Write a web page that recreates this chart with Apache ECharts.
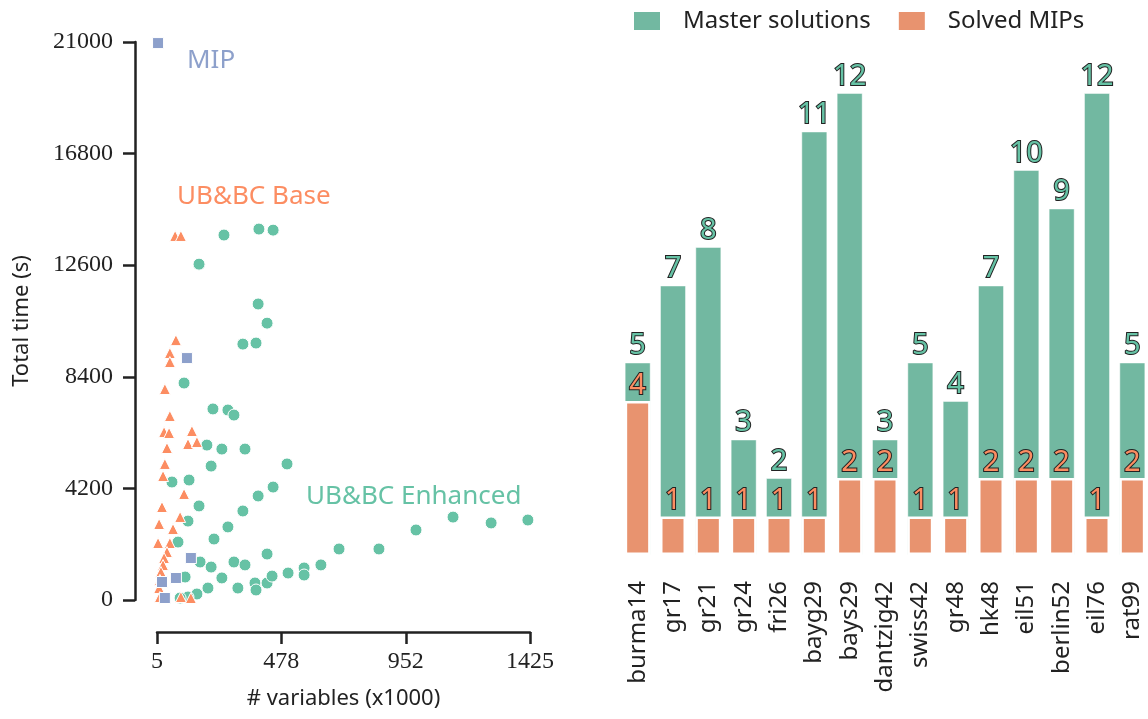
<!DOCTYPE html>
<html style="height: 100%;">
<head>
<meta charset="utf-8">
<title>UB&amp;BC</title>
<script src="https://cdn.jsdelivr.net/npm/echarts@6/dist/echarts.min.js"></script>
</head>
<body style="height: 100%; margin: 0; background: #fff;">
<div id="main" style="width: 1148px; height: 719px;"></div>
<script>
// scatter: [# variables (x1000), total time (s)]
var enhancedPts = [
  [260, 13735], [393, 13960], [447, 13920], [165, 12640], [390, 11140], [424, 10420],
  [332, 9630], [382, 9670], [108, 8165], [218, 7190], [275, 7150], [298, 6960],
  [195, 5830], [252, 5680], [340, 5680], [500, 5120], [211, 5040], [62, 4440],
  [127, 4515], [447, 4250], [390, 3915], [332, 3350], [275, 2750], [222, 2295],
  [165, 3540], [123, 2970], [85, 2180], [169, 1430], [211, 1240], [298, 1430],
  [340, 1320], [424, 1730], [698, 1920], [850, 1920], [991, 2635], [1132, 3120],
  [1277, 2900], [1417, 3010], [112, 865], [252, 830], [313, 450], [199, 450],
  [378, 640], [382, 376], [424, 640], [443, 900], [504, 1015], [565, 1205],
  [565, 940], [629, 1320], [157, 226], [123, 113], [93, 75]
];
var basePts = [
  [74, 13700], [96, 13700], [77, 9780], [54, 9295], [54, 8955], [35, 7940],
  [54, 6925], [32, 6320], [51, 6285], [138, 6360], [43, 5720], [123, 5870],
  [157, 5945], [35, 5120], [28, 4665], [108, 3990], [24, 3500], [93, 3125],
  [13, 2860], [66, 2670], [9, 2145], [54, 2145], [43, 1805], [32, 1580],
  [28, 1315], [20, 1055], [16, 755], [13, 450], [96, 113], [134, 75], [16, 113]
];
var mipPts = [
  [9, 20960], [119, 9105], [134, 1580], [77, 828], [24, 677], [35, 75]
];
var xTicks = [5, 478, 952, 1425];

// bars
var instances = ['burma14', 'gr17', 'gr21', 'gr24', 'fri26', 'bayg29', 'bays29', 'dantzig42',
  'swiss42', 'gr48', 'hk48', 'eil51', 'berlin52', 'eil76', 'rat99'];
var masterSolutions = [5, 7, 8, 3, 2, 11, 12, 3, 5, 4, 7, 10, 9, 12, 5];
var solvedMips = [4, 1, 1, 1, 1, 1, 2, 2, 1, 1, 2, 2, 2, 1, 2];

var sans = '"Noto Sans", "DejaVu Sans", sans-serif';
var serif = '"Liberation Serif", "DejaVu Serif", serif';
var ink = '#222';

function plain(v) {
  return String(Math.round(v));
}

var chart = echarts.init(document.getElementById('main'));

var option = {
  animation: false,
  legend: {
    left: 634,
    top: 9,
    padding: 0,
    itemWidth: 26,
    itemHeight: 18,
    itemGap: 28,
    icon: 'rect',
    itemStyle: { borderWidth: 0 },
    textStyle: { fontFamily: sans, fontSize: 24, color: ink, padding: [0, 0, 0, 18] },
    data: ['Master solutions', 'Solved MIPs']
  },
  grid: [
    { left: 157, top: 42, width: 373, height: 558, outerBoundsMode: 'none', containLabel: false },
    // detached x axis of the scatter, drawn below the data area
    { left: 157, top: 631, width: 373, height: 1, outerBoundsMode: 'none', containLabel: false },
    { left: 620, top: 93, width: 530, height: 462, outerBoundsMode: 'none', containLabel: false }
  ],
  xAxis: [
    {
      gridIndex: 0,
      type: 'value',
      min: 5,
      max: 1425,
      show: false
    },
    {
      gridIndex: 1,
      type: 'value',
      position: 'bottom',
      min: 5,
      max: 1425,
      name: '# variables (x1000)',
      nameLocation: 'middle',
      nameGap: 56,
      nameTextStyle: { fontFamily: sans, fontSize: 22, color: ink },
      axisLine: { show: true, onZero: false, lineStyle: { color: ink, width: 2.5 } },
      axisTick: { show: true, length: 12, lineStyle: { color: ink, width: 2.5 }, customValues: xTicks },
      axisLabel: { fontFamily: serif, fontSize: 24, color: ink, margin: 18, customValues: xTicks, formatter: plain },
      splitLine: { show: false }
    },
    {
      gridIndex: 2,
      type: 'category',
      data: instances,
      axisLine: { show: false },
      axisTick: { show: false },
      axisLabel: { rotate: 90, interval: 0, fontFamily: sans, fontSize: 24, color: ink, margin: 26 }
    }
  ],
  yAxis: [
    {
      gridIndex: 0,
      type: 'value',
      min: 0,
      max: 21000,
      interval: 4200,
      offset: 22,
      name: 'Total time (s)',
      nameLocation: 'middle',
      nameGap: 102,
      nameTextStyle: { fontFamily: sans, fontSize: 22, color: ink },
      axisLine: { show: true, onZero: false, lineStyle: { color: ink, width: 2.5 } },
      axisTick: { show: true, length: 12, lineStyle: { color: ink, width: 2.5 } },
      axisLabel: { fontFamily: serif, fontSize: 24, color: ink, margin: 22, formatter: plain },
      splitLine: { show: false }
    },
    {
      gridIndex: 1,
      type: 'value',
      min: 0,
      max: 1,
      show: false
    },
    {
      gridIndex: 2,
      type: 'value',
      min: 0,
      max: 12,
      show: false
    }
  ],
  graphic: [
    { type: 'text', x: 187, y: 61, style: { text: 'MIP', fill: '#8da0cb', font: '26px ' + sans, verticalAlign: 'middle' } },
    { type: 'text', x: 177, y: 197, style: { text: 'UB&BC Base', fill: '#fc8d62', font: '26px ' + sans, verticalAlign: 'middle' } },
    { type: 'text', x: 306, y: 497, style: { text: 'UB&BC Enhanced', fill: '#66c2a5', font: '26px ' + sans, verticalAlign: 'middle' } }
  ],
  series: [
    {
      name: 'UB&BC Enhanced',
      type: 'scatter',
      xAxisIndex: 0,
      yAxisIndex: 0,
      symbol: 'circle',
      symbolSize: 12,
      itemStyle: { color: '#66c2a5', borderColor: '#fff', borderWidth: 1, opacity: 1 },
      data: enhancedPts
    },
    {
      name: 'UB&BC Base',
      type: 'scatter',
      xAxisIndex: 0,
      yAxisIndex: 0,
      symbol: 'triangle',
      symbolSize: 11,
      itemStyle: { color: '#fc8d62', borderColor: '#fff', borderWidth: 1, opacity: 1 },
      data: basePts
    },
    {
      name: 'MIP',
      type: 'scatter',
      xAxisIndex: 0,
      yAxisIndex: 0,
      symbol: 'rect',
      symbolSize: 11,
      itemStyle: { color: '#8da0cb', borderColor: '#fff', borderWidth: 1, opacity: 1 },
      data: mipPts
    },
    {
      name: 'Master solutions',
      type: 'bar',
      xAxisIndex: 2,
      yAxisIndex: 2,
      barWidth: 26,
      barGap: '-100%',
      itemStyle: { color: '#72b8a1', borderColor: 'rgba(255,255,255,0.45)', borderWidth: 1 },
      label: {
        show: true,
        position: 'top',
        distance: 2,
        fontFamily: sans,
        fontSize: 29,
        color: '#66c2a5',
        textBorderColor: ink,
        textBorderWidth: 2
      },
      data: masterSolutions
    },
    {
      name: 'Solved MIPs',
      type: 'bar',
      xAxisIndex: 2,
      yAxisIndex: 2,
      barWidth: 26,
      barGap: '-100%',
      itemStyle: { color: '#e8936f', borderColor: '#fff', borderWidth: 2.5 },
      label: {
        show: true,
        position: 'top',
        distance: 1,
        fontFamily: sans,
        fontSize: 29,
        color: '#fc8d62',
        textBorderColor: ink,
        textBorderWidth: 2
      },
      data: solvedMips
    }
  ]
};

chart.setOption(option);
</script>
</body>
</html>
